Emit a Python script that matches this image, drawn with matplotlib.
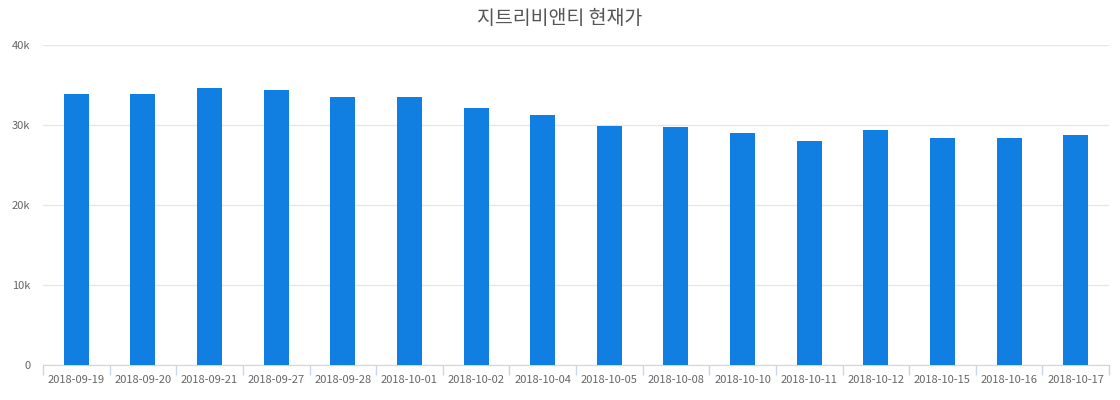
import numpy as np
import matplotlib
matplotlib.use("Agg")
import matplotlib.pyplot as plt
from matplotlib.ticker import FuncFormatter, FixedLocator

plt.rcParams['font.family'] = ['Noto Sans CJK KR', 'DejaVu Sans']

dates = ['2018-09-19', '2018-09-20', '2018-09-21', '2018-09-27', '2018-09-28',
         '2018-10-01', '2018-10-02', '2018-10-04', '2018-10-05', '2018-10-08',
         '2018-10-10', '2018-10-11', '2018-10-12', '2018-10-15', '2018-10-16',
         '2018-10-17']
prices = [33900, 33900, 34650, 34400, 33500, 33500, 32100, 31250, 29900, 29800,
          29050, 28000, 29400, 28400, 28400, 28750]

fig = plt.figure(figsize=(11.2, 4), dpi=100)
ax = fig.add_axes([43 / 1120, 35 / 400, 1066 / 1120, 320 / 400])

x = np.arange(len(dates))
ax.bar(x, prices, width=0.375, color='#117fe2', zorder=3)

ax.set_xlim(-0.5, len(dates) - 0.5)
ax.set_ylim(0, 40000)
ax.set_yticks([0, 10000, 20000, 30000, 40000])
ax.yaxis.set_major_formatter(FuncFormatter(lambda v, p: '0' if v == 0 else f'{int(v / 1000)}k'))
ax.grid(axis='y', color='#e6e6e6', linewidth=1, zorder=0)

ax.set_xticks(x)
ax.set_xticklabels(dates)
ax.xaxis.set_minor_locator(FixedLocator(np.arange(-0.5, len(dates), 1)))
ax.tick_params(axis='x', which='major', length=0, pad=7, labelsize=8, labelcolor='#666666')
ax.tick_params(axis='x', which='minor', length=7, color='#ccd6eb', width=1)
ax.tick_params(axis='y', length=0, pad=9, labelsize=8, labelcolor='#666666')

for s in ['top', 'right', 'left']:
    ax.spines[s].set_visible(False)
ax.spines['bottom'].set_color('#ccd6eb')

fig.text(0.5, 0.953, '지트리비앤티 현재가', ha='center', va='center',
         fontsize=14, color='#555555')

fig.savefig('out.png', dpi=100)
